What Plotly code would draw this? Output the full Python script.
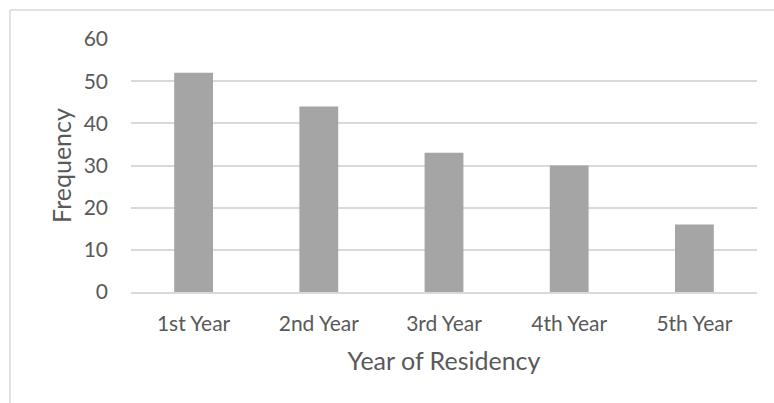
import plotly.graph_objects as go

categories = ["1st Year", "2nd Year", "3rd Year", "4th Year", "5th Year"]
frequency = [52, 44, 33, 30, 16]
y_ticks = [0, 10, 20, 30, 40, 50, 60]

W, H = 774, 403
L, R, T, B = 131, 17, 39, 111
FONT = "Lato"

fig = go.Figure(go.Bar(x=categories, y=frequency, marker_color="#A5A5A5",
                       marker_line_width=0))

fig.update_layout(
    width=W, height=H,
    margin=dict(l=L, r=R, t=T, b=B),
    paper_bgcolor="white", plot_bgcolor="white",
    bargap=0.69,
    showlegend=False,
    font=dict(family=FONT, color="#595959", size=21),
)
fig.update_xaxes(
    showgrid=False, showline=True, linecolor="#D9D9D9", linewidth=1.5,
    ticks="", ticklabelstandoff=12, tickfont=dict(size=21),
    title=dict(text="Year of Residency", font=dict(size=25), standoff=19),
)
fig.update_yaxes(
    range=[0, 60], tickvals=y_ticks, showgrid=True, gridcolor="#D9D9D9",
    gridwidth=1.5, zeroline=False, showline=False, ticks="",
    ticklabelstandoff=22, tickfont=dict(size=21),
    title=dict(text="Frequency", font=dict(size=25), standoff=4),
)

# partially visible chart-area border (left and top edges)
x0 = (10 - L) / (W - L - R)
y_top = 1 + (T - 10) / (H - T - B)
fig.add_shape(type="line", xref="paper", yref="paper", x0=x0, x1=1.2,
              y0=y_top, y1=y_top, line=dict(color="#D9D9D9", width=1.5))
fig.add_shape(type="line", xref="paper", yref="paper", x0=x0, x1=x0,
              y0=y_top, y1=-1, line=dict(color="#D9D9D9", width=1.5))

fig.write_html("out.html")
